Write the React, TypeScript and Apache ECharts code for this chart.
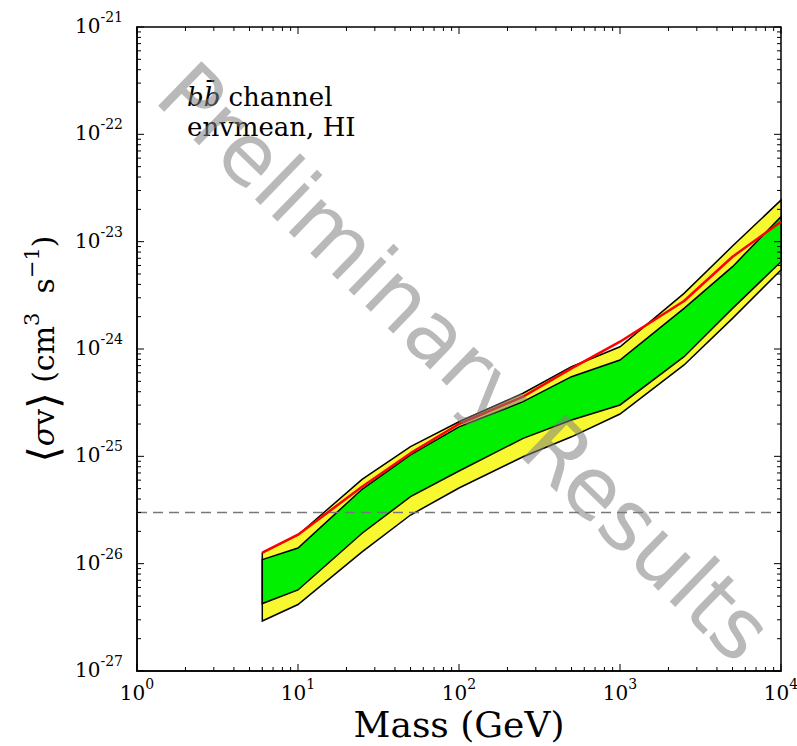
import React, { useEffect, useRef } from "react";
import * as echarts from "echarts";

// Dark-matter annihilation limits, b b-bar channel (envmean, HI), <σv> in cm^3 s^-1
const masses = [6, 10, 25, 50, 100, 250, 500, 1000, 2500, 5000, 10000];
const upper2 = [1.26e-26, 1.85e-26, 6.1e-26, 1.23e-25, 2.1e-25, 3.87e-25, 6.84e-25, 1.05e-24, 3.3e-24, 9.1e-24, 2.44e-23];
const upper1 = [1.09e-26, 1.4e-26, 4.93e-26, 1.03e-25, 1.88e-25, 3.23e-25, 5.52e-25, 7.89e-25, 2.39e-24, 5.85e-24, 1.71e-23];
const lower1 = [4.25e-27, 5.69e-27, 1.92e-26, 4.21e-26, 7.3e-26, 1.47e-25, 2.18e-25, 3.01e-25, 8.48e-25, 2.39e-24, 6.5e-24];
const lower2 = [2.92e-27, 4.16e-27, 1.29e-26, 2.84e-26, 5.07e-26, 9.9e-26, 1.52e-25, 2.48e-25, 7.1e-25, 1.93e-24, 5.45e-24];
const observed = [1.27e-26, 1.86e-26, 5.21e-26, 1.07e-25, 2.0e-25, 3.6e-25, 6.61e-25, 1.17e-24, 2.8e-24, 7.24e-24, 1.53e-23];
const thermalRelic = 3e-26;

const xMin = 1;
const xMax = 1e4;
const yMin = 1e-27;
const yMax = 1e-21;
const xDecades = [1, 10, 100, 1000, 10000];
const yDecades = [1e-27, 1e-26, 1e-25, 1e-24, 1e-23, 1e-22, 1e-21];
const mantissas = [2, 3, 4, 5, 6, 7, 8, 9];

// ECharts rounds log-axis extents to 20 decimals, so the y axis works in units of 1e-27.
const Y_UNIT = 1e-27;
const Y_UNIT_EXP = -27;
const sy = (v: number) => v / Y_UNIT;

const SERIF = "DejaVu Serif";

function bandRenderer(upper: number[], lower: number[], fill: string) {
  return (params: any, api: any) => {
    if (params.dataIndex !== 0) return null;
    const pts: number[][] = [];
    for (let i = 0; i < masses.length; i++) pts.push(api.coord([masses[i], sy(upper[i])]));
    for (let i = masses.length - 1; i >= 0; i--) pts.push(api.coord([masses[i], sy(lower[i])]));
    return {
      type: "polygon",
      shape: { points: pts },
      style: { fill, stroke: "#000", lineWidth: 1.5, lineJoin: "miter" },
    };
  };
}

function tickRenderer(params: any, api: any) {
  if (params.dataIndex !== 0) return null;
  const children: any[] = [];
  const st = { stroke: "#000", lineWidth: 1 };
  const addX = (v: number, len: number) => {
    const b = api.coord([v, sy(yMin)]);
    const t = api.coord([v, sy(yMax)]);
    children.push({ type: "line", shape: { x1: b[0], y1: b[1], x2: b[0], y2: b[1] - len }, style: st });
    children.push({ type: "line", shape: { x1: t[0], y1: t[1], x2: t[0], y2: t[1] + len }, style: st });
  };
  const addY = (v: number, len: number) => {
    const l = api.coord([xMin, sy(v)]);
    const r = api.coord([xMax, sy(v)]);
    children.push({ type: "line", shape: { x1: l[0], y1: l[1], x2: l[0] + len, y2: l[1] }, style: st });
    children.push({ type: "line", shape: { x1: r[0], y1: r[1], x2: r[0] - len, y2: r[1] }, style: st });
  };
  xDecades.forEach((d, i) => {
    addX(d, 7);
    if (i < xDecades.length - 1) mantissas.forEach((m) => addX(d * m, 4));
  });
  yDecades.forEach((d, i) => {
    addY(d, 7);
    if (i < yDecades.length - 1) mantissas.forEach((m) => addY(d * m, 4));
  });
  return { type: "group", children };
}

const xLabel = (v: number) => "{b|10}{sup|" + Math.round(Math.log10(v)) + "}";
const yLabel = (v: number) => "{b|10}{sup|" + (Math.round(Math.log10(v)) + Y_UNIT_EXP) + "}";
const labelRich = {
  b: { fontSize: 20, fontFamily: SERIF, color: "#000", lineHeight: 26, verticalAlign: "bottom" },
  sup: { fontSize: 14, fontFamily: SERIF, color: "#000", lineHeight: 14, verticalAlign: "top" },
};

export default function App() {
  const ref = useRef<HTMLDivElement>(null);
  useEffect(() => {
    if (!ref.current) return;
    const chart = echarts.init(ref.current, null, { renderer: "svg" });
    const option: any = {
      animation: false,
      backgroundColor: "#fff",
      grid: {
        left: 137,
        top: 27,
        right: 16,
        bottom: 75,
        containLabel: false,
        outerBoundsMode: "none",
        show: true,
        borderColor: "#000",
        borderWidth: 1.5,
        backgroundColor: "transparent",
      },
      xAxis: {
        type: "log",
        logBase: 10,
        min: xMin,
        max: xMax,
        name: "Mass (GeV)",
        nameLocation: "middle",
        nameGap: 35,
        nameMoveOverlap: false,
        nameTextStyle: { fontFamily: SERIF, fontSize: 36, color: "#000" },
        axisLine: { show: true, lineStyle: { color: "#000", width: 1.5 } },
        axisTick: { show: false },
        splitLine: { show: false },
        axisLabel: { formatter: xLabel, rich: labelRich, margin: 6, showMinLabel: true, showMaxLabel: true, hideOverlap: false },
      },
      yAxis: {
        type: "log",
        logBase: 10,
        min: sy(yMin),
        max: sy(yMax),
        name: "{a|⟨}{i|σ}{r|v}{a|⟩}{r| (cm}{s|3}{r|  s}{s|−1}{r|)}",
        nameLocation: "middle",
        nameRotate: 90,
        nameGap: 72,
        nameMoveOverlap: false,
        nameTextStyle: {
          fontFamily: SERIF,
          fontSize: 30,
          color: "#000",
          rich: {
            a: { fontFamily: SERIF, fontSize: 42, color: "#000", lineHeight: 44, verticalAlign: "middle" },
            i: { fontFamily: SERIF, fontSize: 30, fontStyle: "italic", color: "#000", lineHeight: 44, verticalAlign: "middle" },
            r: { fontFamily: SERIF, fontSize: 30, color: "#000", lineHeight: 44, verticalAlign: "middle" },
            s: { fontFamily: SERIF, fontSize: 21, color: "#000", lineHeight: 26, verticalAlign: "top" },
          },
        },
        axisLine: { show: true, lineStyle: { color: "#000", width: 1.5 } },
        axisTick: { show: false },
        splitLine: { show: false },
        axisLabel: { formatter: yLabel, rich: labelRich, margin: 14, padding: [0, 0, 8, 0], showMinLabel: true, showMaxLabel: true, hideOverlap: false },
      },
      series: [
        {
          type: "custom",
          name: "2 sigma",
          renderItem: bandRenderer(upper2, lower2, "#f8f830"),
          data: masses.map((m, i) => [m, sy(upper2[i])]),
          silent: true,
          z: 1,
        },
        {
          type: "custom",
          name: "1 sigma",
          renderItem: bandRenderer(upper1, lower1, "#00f000"),
          data: masses.map((m, i) => [m, sy(upper1[i])]),
          silent: true,
          z: 2,
        },
        {
          type: "line",
          name: "thermal relic",
          data: [
            [xMin, sy(thermalRelic)],
            [xMax, sy(thermalRelic)],
          ],
          showSymbol: false,
          symbol: "none",
          lineStyle: { color: "#777", width: 1.5, type: [10, 6] },
          z: 3,
        },
        {
          type: "line",
          name: "observed",
          data: masses.map((m, i) => [m, sy(observed[i])]),
          showSymbol: false,
          symbol: "none",
          lineStyle: { color: "#ff0000", width: 2.5 },
          z: 4,
        },
        {
          type: "custom",
          name: "ticks",
          renderItem: tickRenderer,
          data: [[xMin, sy(yMin)]],
          silent: true,
          clip: false,
          z: 5,
        },
      ],
      graphic: [
        {
          type: "text",
          x: 187,
          y: 112,
          z: 50,
          style: {
            text: "{i|bb\u0304} channel\nenvmean, HI",
            fontFamily: SERIF,
            fontSize: 26,
            lineHeight: 30,
            fill: "#000",
            align: "left",
            verticalAlign: "middle",
            textAlign: "left",
            textVerticalAlign: "middle",
            rich: {
              i: { fontFamily: SERIF, fontSize: 26, fontStyle: "italic", lineHeight: 30 },
            },
          },
        },
        {
          type: "text",
          x: 465,
          y: 362,
          rotation: -0.77,
          z: 100,
          silent: true,
          style: {
            text: "Preliminary Results",
            fontFamily: "DejaVu Sans",
            fontSize: 85,
            fill: "rgba(128,128,128,0.55)",
            align: "center",
            verticalAlign: "middle",
            textAlign: "center",
            textVerticalAlign: "middle",
          },
        },
      ],
    };
    chart.setOption(option);
    return () => chart.dispose();
  }, []);
  return (
    <div
      ref={ref}
      style={{ position: "absolute", left: 0, top: 0, width: 797, height: 746 }}
    />
  );
}
